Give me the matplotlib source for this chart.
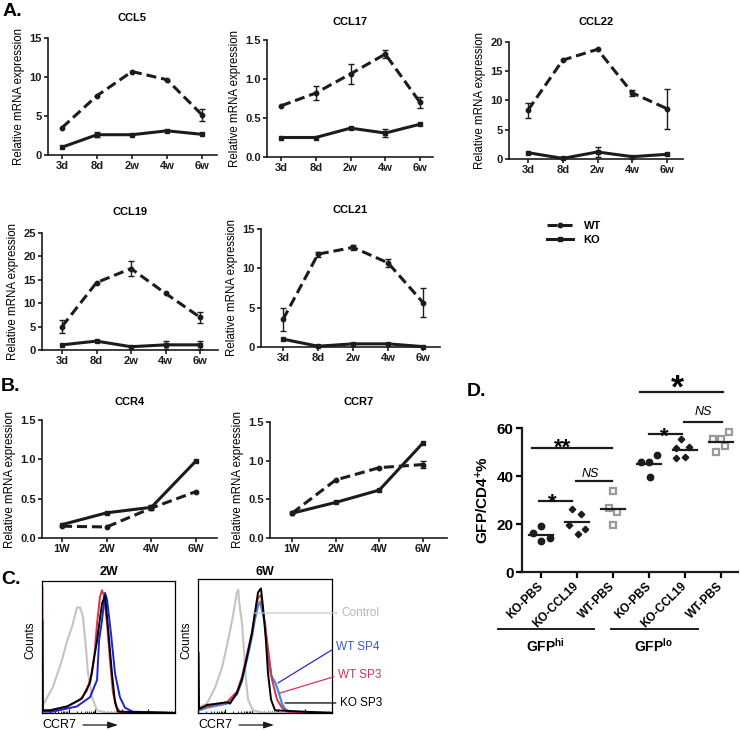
import numpy as np
import matplotlib.pyplot as plt
from matplotlib.ticker import FormatStrFormatter

plt.rcParams['font.family'] = ['Liberation Sans', 'DejaVu Sans']
plt.rcParams['mathtext.fontset'] = 'custom'
plt.rcParams['mathtext.rm'] = 'Liberation Sans'
plt.rcParams['mathtext.bf'] = 'Liberation Sans:bold'
plt.rcParams['mathtext.it'] = 'Liberation Sans:italic'

W, H = 740, 730
INK = '#1c1c1c'

# ---- A. chemokine expression ----
a_times = ['3d', '8d', '2w', '4w', '6w']
ccl5_wt = [3.5, 7.6, 10.7, 9.65, 5.15]
ccl5_wt_err = [0, 0, 0, 0, 0.75]
ccl5_ko = [1.0, 2.6, 2.6, 3.1, 2.65]
ccl5_ko_err = [0, 0.35, 0, 0, 0]
ccl17_wt = [0.656, 0.82, 1.065, 1.32, 0.70]
ccl17_wt_err = [0, 0.09, 0.13, 0.05, 0.07]
ccl17_ko = [0.25, 0.25, 0.37, 0.307, 0.42]
ccl17_ko_err = [0, 0, 0, 0.05, 0]
ccl22_wt = [8.35, 16.9, 18.75, 11.3, 8.6]
ccl22_wt_err = [1.3, 0, 0, 0.5, 3.4]
ccl22_ko = [1.08, 0.1, 1.2, 0.4, 0.8]
ccl22_ko_err = [0, 0, 0.8, 0, 0]
ccl19_wt = [5.0, 14.4, 17.4, 12.1, 7.0]
ccl19_wt_err = [1.4, 0, 1.6, 0, 1.2]
ccl19_ko = [1.1, 1.9, 0.7, 1.1, 1.1]
ccl19_ko_err = [0, 0, 0, 0.9, 0.9]
ccl21_wt = [3.5, 11.8, 12.66, 10.7, 5.65]
ccl21_wt_err = [1.5, 0.3, 0.3, 0.5, 1.85]
ccl21_ko = [1.0, 0.1, 0.4, 0.4, 0.05]
ccl21_ko_err = [0, 0, 0, 0, 0]

# ---- B. receptor expression ----
b_times = ['1W', '2W', '4W', '6W']
ccr4_wt = [0.15, 0.14, 0.38, 0.59]
ccr4_wt_err = [0, 0, 0, 0]
ccr4_ko = [0.17, 0.32, 0.39, 0.98]
ccr4_ko_err = [0, 0, 0.03, 0]
ccr7_wt = [0.32, 0.75, 0.91, 0.95]
ccr7_wt_err = [0, 0, 0, 0.05]
ccr7_ko = [0.32, 0.46, 0.62, 1.23]
ccr7_ko_err = [0, 0, 0, 0]

# ---- C. CCR7 histograms (x = fraction of log axis, y = relative counts) ----
w2_ctrl_x = [0.008, 0.083, 0.15, 0.19, 0.225, 0.263, 0.286, 0.308, 0.33, 0.346, 0.376, 0.414, 0.5, 1.0]
w2_ctrl_y = [0.06, 0.20, 0.40, 0.55, 0.65, 0.80, 0.80, 0.73, 0.50, 0.30, 0.12, 0.02, 0.0, 0.0]
w2_sp3_x = [0.003, 0.006, 0.06, 0.19, 0.286, 0.338, 0.376, 0.398, 0.414, 0.436, 0.451, 0.466, 0.489, 0.511, 0.534, 0.564, 0.586, 1.0]
w2_sp3_y = [0.955, 0.02, 0.02, 0.05, 0.10, 0.17, 0.30, 0.48, 0.68, 0.88, 0.93, 0.89, 0.68, 0.40, 0.15, 0.04, 0.01, 0.0]
w2_sp4_x = [0.005, 0.08, 0.263, 0.361, 0.414, 0.429, 0.451, 0.474, 0.489, 0.519, 0.549, 0.586, 0.624, 0.684, 1.0]
w2_sp4_y = [0.01, 0.01, 0.05, 0.12, 0.25, 0.55, 0.70, 0.91, 0.86, 0.60, 0.30, 0.12, 0.04, 0.01, 0.0]
w2_ko_x = [0.003, 0.006, 0.06, 0.19, 0.30, 0.361, 0.414, 0.451, 0.474, 0.496, 0.526, 0.549, 0.571, 1.0]
w2_ko_y = [0.70, 0.02, 0.02, 0.05, 0.11, 0.23, 0.55, 0.83, 0.89, 0.65, 0.30, 0.08, 0.01, 0.0]

w6_ctrl_x = [0.007, 0.067, 0.127, 0.18, 0.224, 0.26, 0.29, 0.30, 0.306, 0.328, 0.343, 0.358, 0.373, 0.41, 0.5, 1.0]
w6_ctrl_y = [0.045, 0.07, 0.19, 0.34, 0.54, 0.72, 0.90, 0.92, 0.84, 0.67, 0.47, 0.25, 0.10, 0.02, 0.0, 0.0]
w6_sp4_x = [0.008, 0.067, 0.216, 0.291, 0.328, 0.366, 0.403, 0.425, 0.448, 0.463, 0.50, 0.522, 0.545, 0.575, 0.597, 0.627, 0.649, 0.687, 1.0]
w6_sp4_y = [0.02, 0.04, 0.07, 0.14, 0.24, 0.40, 0.57, 0.70, 0.80, 0.83, 0.67, 0.42, 0.28, 0.23, 0.17, 0.07, 0.03, 0.01, 0.0]
w6_sp3_x = [0.008, 0.067, 0.216, 0.291, 0.328, 0.366, 0.403, 0.425, 0.448, 0.47, 0.515, 0.552, 0.59, 0.627, 0.664, 1.0]
w6_sp3_y = [0.03, 0.05, 0.08, 0.16, 0.27, 0.44, 0.60, 0.74, 0.86, 0.88, 0.54, 0.25, 0.10, 0.04, 0.01, 0.0]
w6_ko_x = [0.004, 0.008, 0.067, 0.216, 0.239, 0.291, 0.328, 0.366, 0.403, 0.425, 0.448, 0.47, 0.485, 0.507, 0.522, 0.545, 0.575, 1.0]
w6_ko_y = [0.45, 0.03, 0.06, 0.08, 0.07, 0.15, 0.25, 0.42, 0.60, 0.75, 0.90, 0.93, 0.79, 0.54, 0.30, 0.10, 0.02, 0.0]

# ---- D. GFP/CD4+ % ----
d_groups = ['KO-PBS', 'KO-CCL19', 'WT-PBS', 'KO-PBS', 'KO-CCL19', 'WT-PBS']
d_values = [
    [16.1, 12.9, 14.0, 19.3],
    [26.4, 24.3, 19.6, 16.0, 18.1],
    [33.6, 26.7, 25.0, 19.6],
    [46.0, 46.0, 48.9, 39.7],
    [55.3, 51.7, 52.1, 47.9, 47.6],
    [58.3, 55.3, 55.3, 52.6, 50.0],
]
d_jitter = [
    [-0.22, 0.0, 0.24, 0.01],
    [-0.14, 0.11, -0.21, 0.02, 0.21],
    [0.01, -0.12, 0.12, 0.01],
    [-0.23, 0.0, 0.22, 0.02],
    [-0.12, -0.25, 0.12, 0.0, -0.25],
    [0.21, -0.23, 0.0, 0.12, -0.13],
]

fig = plt.figure(figsize=(7.4, 7.3), dpi=100)


def fx(px):
    return px / W


def fy(py):
    return 1 - py / H


def px_axes(left, top, right, bottom):
    return fig.add_axes([fx(left), fy(bottom), (right - left) / W, (bottom - top) / H])


def line_panel(box, first, last, cats, ymax, ystep, fmt, title, title_y,
               wt, wt_err, ko, ko_err):
    spine, end, top, bot = box
    n = len(cats)
    step = (last - first) / (n - 1)
    ax = px_axes(spine, top, end, bot)
    x = np.arange(n)
    l_wt, = ax.plot(x, wt, color=INK, lw=2.2, ls=(0, (3.3, 1.6)), marker='o', ms=3.2,
                    clip_on=False, label='WT')
    l_ko, = ax.plot(x, ko, color=INK, lw=2.2, marker='s', ms=3.2, clip_on=False, label='KO')
    for vals, errs in ((wt, wt_err), (ko, ko_err)):
        idx = [i for i, e in enumerate(errs) if e > 0]
        if idx:
            ax.errorbar(idx, [vals[i] for i in idx], yerr=[errs[i] for i in idx],
                        fmt='none', ecolor=INK, elinewidth=1, capsize=2.5, capthick=1,
                        clip_on=False)
    ax.set_xlim(-(first - spine) / step, n - 1 + (end - last) / step)
    ax.set_ylim(0, ymax)
    ax.set_yticks(np.arange(0, ymax + ystep / 2, ystep))
    ax.yaxis.set_major_formatter(FormatStrFormatter(fmt))
    ax.set_xticks(x, cats)
    for s in ('top', 'right'):
        ax.spines[s].set_visible(False)
    for s in ('left', 'bottom'):
        ax.spines[s].set_linewidth(1.2)
        ax.spines[s].set_color(INK)
    ax.tick_params(length=3, width=1.2, pad=1.5, labelsize=8, colors=INK)
    for lab in ax.get_xticklabels() + ax.get_yticklabels():
        lab.set_fontweight('bold')
    ax.set_ylabel('Relative mRNA expression', fontsize=8.3, labelpad=3)
    fig.text(fx((spine + end) / 2), fy(title_y), title, ha='center', va='center',
             fontsize=8, fontweight='bold')
    return ax, l_wt, l_ko


ax5, h_wt, h_ko = line_panel((48, 217, 38, 155), 62, 202, a_times, 15, 5, '%d', 'CCL5', 18,
                             ccl5_wt, ccl5_wt_err, ccl5_ko, ccl5_ko_err)
line_panel((267, 433, 40, 157), 281, 420, a_times, 1.5, 0.5, '%.1f', 'CCL17', 22,
           ccl17_wt, ccl17_wt_err, ccl17_ko, ccl17_ko_err)
line_panel((509, 683, 42, 159), 528, 667, a_times, 20, 5, '%d', 'CCL22', 22,
           ccl22_wt, ccl22_wt_err, ccl22_ko, ccl22_ko_err)
line_panel((42, 218, 233, 350), 62, 200, a_times, 25, 5, '%d', 'CCL19', 212,
           ccl19_wt, ccl19_wt_err, ccl19_ko, ccl19_ko_err)
line_panel((261, 440, 229, 347), 283, 423, a_times, 15, 5, '%d', 'CCL21', 210,
           ccl21_wt, ccl21_wt_err, ccl21_ko, ccl21_ko_err)
line_panel((42, 217, 420, 538), 62, 196, b_times, 1.5, 0.5, '%.1f', 'CCR4', 402,
           ccr4_wt, ccr4_wt_err, ccr4_ko, ccr4_ko_err)
line_panel((270, 447, 422, 538), 292, 423, b_times, 1.5, 0.5, '%.1f', 'CCR7', 402,
           ccr7_wt, ccr7_wt_err, ccr7_ko, ccr7_ko_err)

fig.legend([h_wt, h_ko], ['WT', 'KO'], loc='upper left', bbox_to_anchor=(fx(547), fy(221)),
           frameon=False, borderpad=0, borderaxespad=0, handlelength=2.3, handletextpad=1.0,
           labelspacing=0.35, prop={'size': 8, 'weight': 'bold'})

# ---- C ----
def hist_panel(box, title, curves):
    left, top, right, bot = box
    ax = px_axes(left, top, right, bot)
    for xs, ys, col, lw in curves:
        ax.plot(xs, ys, color=col, lw=lw)
    ax.set_xlim(0, 1)
    ax.set_ylim(0, 1)
    ax.set_yticks([])
    dec = np.arange(0, 1.0, 0.2)
    minor = (dec[:, None] + np.log10(np.arange(2, 10))[None, :] * 0.2).ravel()
    ax.set_xticks(dec, [])
    ax.set_xticks(minor, minor=True)
    ax.tick_params(axis='x', which='major', direction='in', length=3, width=0.8)
    ax.tick_params(axis='x', which='minor', direction='in', length=1.8, width=0.6)
    for s in ax.spines.values():
        s.set_linewidth(0.9)
    fig.text(fx((left + right) / 2), fy(572), title, ha='center', va='center',
             fontsize=9, fontweight='bold')
    fig.text(fx(left - 12), fy(640), 'Counts', rotation=90, ha='center', va='center',
             fontsize=8.5)
    fig.text(fx(left), fy(725), 'CCR7', ha='left', va='center', fontsize=9)
    ax.annotate('', xy=(left + 76, 5), xycoords='figure pixels', xytext=(left + 41, 5),
                textcoords='figure pixels',
                arrowprops=dict(arrowstyle='-|>,head_length=0.6,head_width=0.2',
                                color=INK, lw=0.9, shrinkA=0, shrinkB=0))
    return ax


GRAY = '#c4c4c4'
RED = '#e0303c'
hist_panel((42, 581, 175, 713), '2W', [
    (w2_ctrl_x, w2_ctrl_y, GRAY, 1.5),
    (w2_sp3_x, w2_sp3_y, RED, 1.4),
    (w2_sp4_x, w2_sp4_y, '#1b22d8', 1.4),
    (w2_ko_x, w2_ko_y, '#000000', 1.4),
])
ax6 = hist_panel((198, 579, 332, 713), '6W', [
    (w6_ctrl_x, w6_ctrl_y, GRAY, 1.5),
    (w6_sp4_x, w6_sp4_y, '#3b8de6', 1.6),
    (w6_sp3_x, w6_sp3_y, RED, 1.4),
    (w6_ko_x, w6_ko_y, '#000000', 1.4),
])

for lab, xy, xyt, tcol, lcol in [
    ('Control', (0.41, 0.746), (1.07, 0.746), '#b8b8b8', '#c8c8c8'),
    ('WT SP4', (0.597, 0.224), (1.03, 0.49), '#3a5ad8', '#2a2ad0'),
    ('WT SP3', (0.612, 0.149), (1.045, 0.28), '#e0304a', '#e0304a'),
    ('KO SP3', (0.649, 0.075), (1.06, 0.075), '#000000', '#000000'),
]:
    ax6.annotate(lab, xy=xy, xycoords='axes fraction', xytext=xyt, textcoords='axes fraction',
                 ha='left', va='center', fontsize=8.5, color=tcol, annotation_clip=False,
                 arrowprops=dict(arrowstyle='-', color=lcol, lw=0.9, shrinkA=1, shrinkB=0,
                                 relpos=(0, 0.5)))

# ---- D ----
axd = px_axes(522, 428, 738, 572)
pos0, step_d = 541, 36
axd.set_xlim(-(pos0 - 522) / step_d, (738 - pos0) / step_d)
axd.set_ylim(0, 60)
markers = ['o', 'D', 's', 'o', 'D', 's']
for i, (vals, jit) in enumerate(zip(d_values, d_jitter)):
    xs = i + np.array(jit)
    m = markers[i]
    if m == 's':
        axd.plot(xs, vals, ls='none', marker='s', ms=4.6, mfc='white', mec='#9a9a9a',
                 mew=1.6, clip_on=False)
    elif m == 'D':
        axd.plot(xs, vals, ls='none', marker='D', ms=3.3, color=INK, clip_on=False)
    else:
        axd.plot(xs, vals, ls='none', marker='o', ms=4.6, color=INK, clip_on=False)
    mean = np.mean(vals)
    axd.plot([i - 0.33, i + 0.33], [mean, mean], color=INK, lw=1.6, clip_on=False)

axd.set_yticks([0, 20, 40, 60])
axd.set_xticks(range(len(d_groups)))
axd.set_xticklabels(d_groups, rotation=45, ha='right', va='center', rotation_mode='anchor')
for s in ('top', 'right'):
    axd.spines[s].set_visible(False)
for s in ('left', 'bottom'):
    axd.spines[s].set_linewidth(1.6)
    axd.spines[s].set_color(INK)
axd.tick_params(axis='y', length=4, width=1.6, pad=2, labelsize=11)
axd.tick_params(axis='x', length=4, width=1.6, pad=5, labelsize=8.5)
for lab in axd.get_xticklabels() + axd.get_yticklabels():
    lab.set_fontweight('bold')
axd.set_ylabel('GFP/CD4$^{\\mathbf{+}}$%', fontsize=11, fontweight='bold', labelpad=4)

# significance marks
for x0, x1, y, txt, tx, ty, fs, style in [
    (-0.25, 1.97, 51.7, '**', 0.61, 54.6, 16, 'normal'),
    (-0.06, 0.86, 29.6, '*', 0.31, 31.7, 16, 'normal'),
    (0.97, 1.97, 37.9, 'NS', 1.36, 40.8, 9, 'italic'),
    (3.0, 3.92, 57.5, '*', 3.42, 59.2, 16, 'normal'),
    (3.97, 5.03, 62.5, 'NS', 4.5, 66.7, 9, 'italic'),
    (2.75, 5.06, 75.0, '*', 3.78, 80.8, 24, 'normal'),
]:
    axd.plot([x0, x1], [y, y], color=INK, lw=1.6, clip_on=False)
    if style == 'italic':
        axd.text(tx, ty, txt, ha='center', va='center', fontsize=fs, style='italic')
    else:
        axd.annotate(txt, xy=(tx, ty), xytext=(0, -0.58 * fs), textcoords='offset points',
                     ha='center', va='baseline', fontsize=fs, fontweight='bold',
                     annotation_clip=False)

tr = axd.get_xaxis_transform()
for x0, x1, xt, lab in [(-1.19, 1.47, 0.11, 'GFP$^{\\mathbf{hi}}$'),
                        (1.94, 4.36, 3.11, 'GFP$^{\\mathbf{lo}}$')]:
    axd.plot([x0, x1], [-0.396, -0.396], transform=tr, color=INK, lw=1.4, clip_on=False)
    axd.text(xt, -0.51, lab, transform=tr, ha='center', va='center', fontsize=10,
             fontweight='bold')

# panel letters
for lab, x, y in [('A.', 12, 12), ('B.', 11, 386), ('C.', 11, 580), ('D.', 477, 391)]:
    fig.text(fx(x), fy(y), lab, ha='center', va='center', fontsize=14, fontweight='bold')

fig.savefig('out.png', dpi=100)
